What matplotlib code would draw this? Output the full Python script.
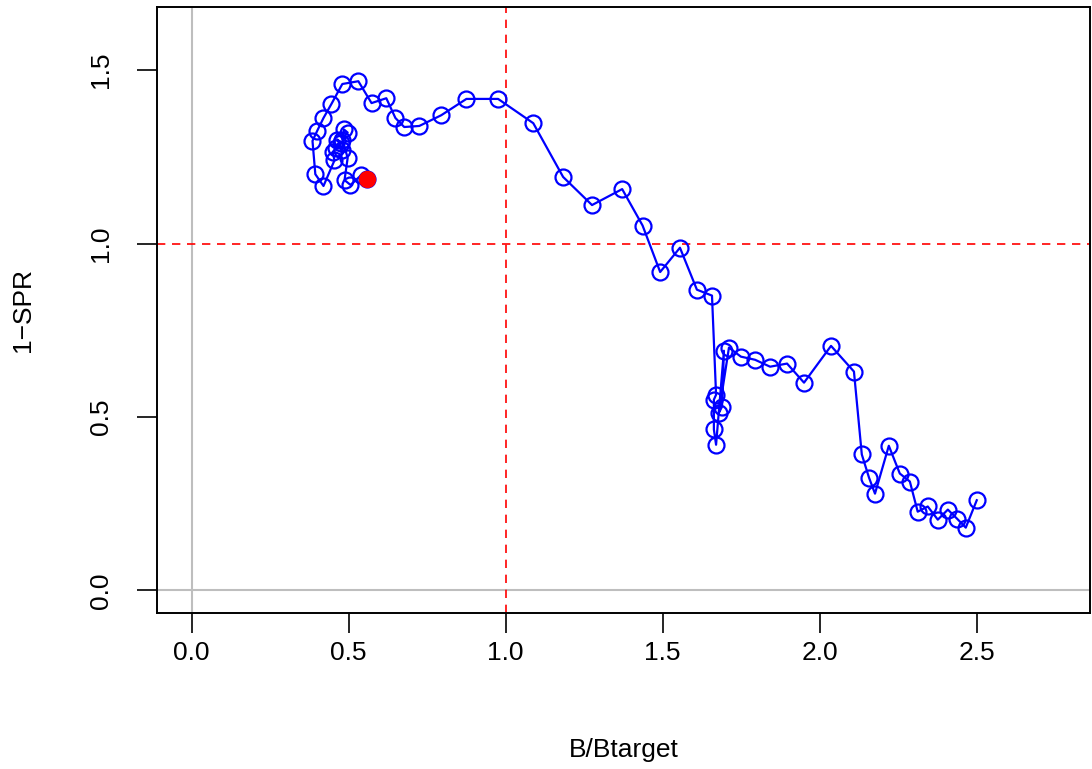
import matplotlib
matplotlib.use("Agg")
import matplotlib.pyplot as plt

plt.rcParams["font.family"] = ["Liberation Sans", "DejaVu Sans"]

# B/Btarget vs 1-SPR trajectory (first year bottom right, last year = red dot)
b_ratio = [2.500, 2.465, 2.437, 2.408, 2.376, 2.344, 2.312, 2.287, 2.255, 2.220,
           2.176, 2.157, 2.134, 2.109, 2.036, 1.950, 1.896, 1.842, 1.794, 1.749,
           1.711, 1.679, 1.689, 1.695, 1.670, 1.663, 1.663, 1.670, 1.657, 1.609,
           1.555, 1.492, 1.436, 1.371, 1.275, 1.183, 1.088, 0.976, 0.875, 0.795,
           0.725, 0.677, 0.649, 0.620, 0.573, 0.531, 0.480, 0.445, 0.420, 0.400,
           0.385, 0.394, 0.420, 0.455, 0.449, 0.461, 0.477, 0.464, 0.480, 0.485,
           0.497, 0.480, 0.497, 0.487, 0.506, 0.541, 0.560]
one_spr = [0.260, 0.181, 0.207, 0.233, 0.204, 0.242, 0.227, 0.314, 0.337, 0.417,
           0.279, 0.325, 0.392, 0.631, 0.705, 0.599, 0.654, 0.645, 0.665, 0.674,
           0.700, 0.512, 0.530, 0.691, 0.420, 0.464, 0.550, 0.564, 0.850, 0.867,
           0.988, 0.918, 1.052, 1.157, 1.111, 1.192, 1.347, 1.417, 1.417, 1.370,
           1.339, 1.336, 1.362, 1.419, 1.405, 1.468, 1.460, 1.402, 1.362, 1.325,
           1.296, 1.200, 1.166, 1.240, 1.264, 1.275, 1.290, 1.300, 1.270, 1.329,
           1.320, 1.300, 1.247, 1.183, 1.169, 1.198, 1.186]

x_ticks = [0.0, 0.5, 1.0, 1.5, 2.0, 2.5]
y_ticks = [0.0, 0.5, 1.0, 1.5]

fig = plt.figure(figsize=(10.92, 7.69), dpi=100)
ax = fig.add_axes([0.1438, 0.2029, 0.8542, 0.7880])

# reference lines
ax.axvline(0, color="#BEBEBE", linewidth=1.5, zorder=1)
ax.axhline(0, color="#BEBEBE", linewidth=1.5, zorder=1)
ax.axvline(1, color="red", linewidth=1.2, linestyle=(0, (5, 4)), zorder=1)
ax.axhline(1, color="red", linewidth=1.2, linestyle=(0, (5, 4)), zorder=1)

ax.plot(b_ratio, one_spr, color="blue", linewidth=1.6, marker="o",
        markersize=11.5, markerfacecolor="none", markeredgewidth=1.6, zorder=2)
ax.plot(b_ratio[-1], one_spr[-1], "o", color="red", markersize=11.5, zorder=3)

ax.set_xlim(-0.11, 2.86)
ax.set_ylim(-0.065, 1.682)
ax.set_xticks(x_ticks)
ax.set_xticklabels([f"{v:.1f}" for v in x_ticks])
ax.set_yticks(y_ticks)
ax.set_yticklabels([f"{v:.1f}" for v in y_ticks], rotation=90, va="center")
ax.tick_params(length=14.4, width=1.2, labelsize=19)
ax.tick_params(axis="x", pad=6)
ax.tick_params(axis="y", pad=17)
for sp in ax.spines.values():
    sp.set_linewidth(1.4)

ax.set_xlabel("B/Btarget", fontsize=19, labelpad=52)
ax.set_ylabel("1\u2212SPR", fontsize=19, labelpad=39)

fig.savefig("out.png", dpi=100)
